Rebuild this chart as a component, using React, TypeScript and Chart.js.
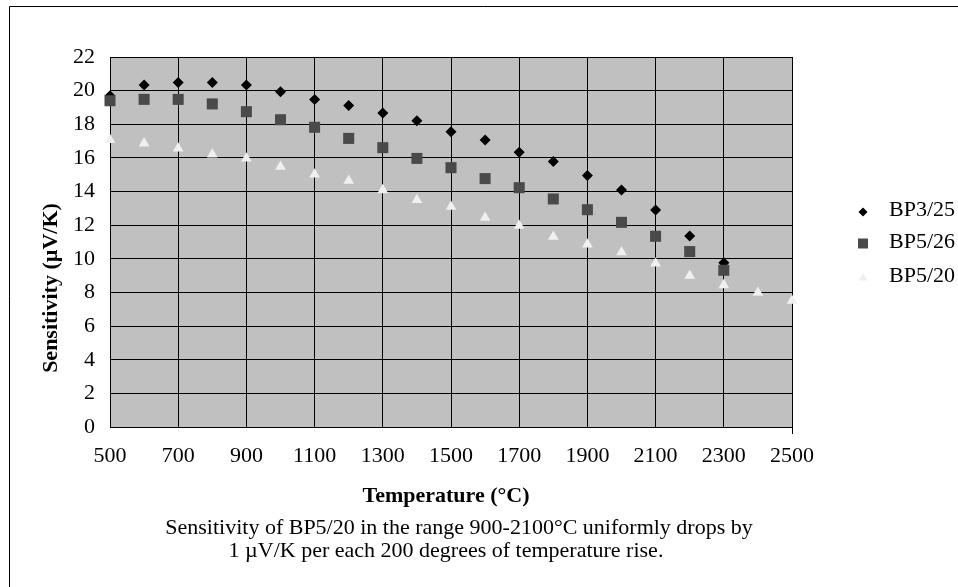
import React, { useEffect, useRef } from 'react';
import { Chart, registerables } from 'chart.js';

Chart.register(...registerables);

const temperatures = [500, 600, 700, 800, 900, 1000, 1100, 1200, 1300, 1400, 1500, 1600, 1700, 1800, 1900, 2000, 2100, 2200, 2300, 2400, 2500];
const seriesLabels = ['BP3/25', 'BP5/26', 'BP5/20'];
const bp325 = [19.7, 20.33, 20.49, 20.49, 20.33, 19.94, 19.48, 19.11, 18.67, 18.21, 17.56, 17.07, 16.33, 15.78, 14.95, 14.09, 12.9, 11.36, 9.77];
const bp526 = [19.4, 19.48, 19.48, 19.21, 18.75, 18.27, 17.82, 17.16, 16.61, 15.97, 15.42, 14.77, 14.23, 13.56, 12.92, 12.17, 11.34, 10.43, 9.32];
const bp520 = [17.07, 16.87, 16.57, 16.21, 15.97, 15.48, 15.02, 14.65, 14.09, 13.5, 13.1, 12.45, 11.97, 11.32, 10.86, 10.39, 9.73, 9.0, 8.44, 7.99, 7.51];
const yTickMin = 0;
const yTickMax = 22;
const yTickStep = 2;
const xTickMin = 500;
const xTickMax = 2500;
const xTickStep = 200;
const xTitle = 'Temperature (°C)';
const yTitle = 'Sensitivity (µV/K)';
const captionLines = [
  'Sensitivity of BP5/20 in the range 900-2100°C uniformly drops by',
  '1 µV/K per each 200 degrees of temperature rise.',
];

const FONT = "'Liberation Serif', 'Times New Roman', serif";
const colors = ['#000000', '#4a4a4a', '#f0f0f0'];

function toPoints(values: number[]) {
  return values.map((v, i) => ({ x: temperatures[i], y: v }));
}

function drawMarker(ctx: CanvasRenderingContext2D, style: string, x: number, y: number, r: number, color: string) {
  ctx.save();
  ctx.fillStyle = color;
  ctx.beginPath();
  if (style === 'rectRot') {
    ctx.moveTo(x - r, y);
    ctx.lineTo(x, y - r);
    ctx.lineTo(x + r, y);
    ctx.lineTo(x, y + r);
    ctx.closePath();
  } else if (style === 'rect') {
    ctx.rect(x - r, y - r, 2 * r, 2 * r);
  } else {
    ctx.moveTo(x, y - r);
    ctx.lineTo(x + r * Math.sqrt(3) / 2, y + r / 2);
    ctx.lineTo(x - r * Math.sqrt(3) / 2, y + r / 2);
    ctx.closePath();
  }
  ctx.fill();
  ctx.restore();
}

const decorPlugin = {
  id: 'decor',
  beforeDraw(chart: any) {
    const { ctx, chartArea: a } = chart;
    ctx.save();
    ctx.fillStyle = '#ffffff';
    ctx.fillRect(0, 0, chart.width, chart.height);
    ctx.fillStyle = '#c0c0c0';
    ctx.fillRect(a.left, a.top, a.right - a.left, a.bottom - a.top);
    ctx.strokeStyle = '#000';
    ctx.lineWidth = 1;
    ctx.beginPath();
    ctx.moveTo(9.5, chart.height);
    ctx.lineTo(9.5, 6.5);
    ctx.lineTo(chart.width, 6.5);
    ctx.stroke();
    ctx.restore();
  },
  afterDraw(chart: any) {
    const { ctx, chartArea: a } = chart;
    ctx.save();
    ctx.strokeStyle = '#000';
    ctx.lineWidth = 1;
    ctx.beginPath();
    ctx.moveTo(Math.round(a.right) + 0.5, a.bottom);
    ctx.lineTo(Math.round(a.right) + 0.5, a.bottom + 7);
    ctx.stroke();

    ctx.fillStyle = '#000';
    ctx.textBaseline = 'alphabetic';
    ctx.font = `bold 22px ${FONT}`;
    ctx.textAlign = 'center';
    ctx.fillText(xTitle, 446, 502);
    ctx.font = `22px ${FONT}`;
    ctx.fillText(captionLines[0], 459, 534);
    ctx.fillText(captionLines[1], 446, 557);

    ctx.save();
    ctx.translate(57, 288);
    ctx.rotate(-Math.PI / 2);
    ctx.font = `bold 22px ${FONT}`;
    ctx.textAlign = 'center';
    ctx.fillText(yTitle, 0, 0);
    ctx.restore();

    const markerSizes = [4.5, 5, 5];
    const rowY = [212, 243.5, 278];
    const textBase = [215.5, 247.5, 282];
    ctx.font = `22px ${FONT}`;
    ctx.textAlign = 'left';
    chart.data.datasets.forEach((ds: any, i: number) => {
      drawMarker(ctx, ds.pointStyle, 863, rowY[i], markerSizes[i], ds.backgroundColor);
      ctx.fillStyle = '#000';
      ctx.fillText(ds.label, 889, textBase[i]);
    });
    ctx.restore();
  },
};

export default function App() {
  const canvasRef = useRef<HTMLCanvasElement | null>(null);

  useEffect(() => {
    document.body.style.margin = '0';
    const canvas = canvasRef.current;
    if (!canvas) return;
    const tickFont = { family: FONT, size: 22 };
    const chart = new Chart(canvas, {
      type: 'scatter',
      data: {
        datasets: [
          {
            label: seriesLabels[0],
            data: toPoints(bp325),
            pointStyle: 'rectRot',
            pointRadius: 5.5,
            backgroundColor: colors[0],
            borderWidth: 0,
            order: 3,
            clip: false,
          },
          {
            label: seriesLabels[1],
            data: toPoints(bp526),
            pointStyle: 'rect',
            pointRadius: 7.8,
            backgroundColor: colors[1],
            borderWidth: 0,
            order: 2,
            clip: false,
          },
          {
            label: seriesLabels[2],
            data: toPoints(bp520),
            pointStyle: 'triangle',
            pointRadius: 6.2,
            backgroundColor: colors[2],
            borderWidth: 0,
            order: 1,
            clip: false,
          },
        ] as any,
      },
      options: {
        animation: false,
        responsive: false,
        events: [],
        layout: { padding: { top: 57, right: 166, left: 0, bottom: 0 } },
        plugins: {
          legend: { display: false },
          tooltip: { enabled: false },
        },
        scales: {
          x: {
            type: 'linear',
            min: xTickMin,
            max: xTickMax,
            ticks: {
              stepSize: xTickStep,
              font: tickFont,
              color: '#000',
              padding: 16,
              maxRotation: 0,
              callback: (v: any) => String(v),
            },
            grid: { color: '#000', drawTicks: false, lineWidth: 1 },
            border: { color: '#000' },
            afterFit: (s: any) => { s.height = 160; },
          },
          y: {
            type: 'linear',
            min: yTickMin,
            max: yTickMax,
            ticks: { stepSize: yTickStep, font: tickFont, color: '#000', padding: 15, callback: (v: any) => String(v) },
            grid: { color: '#000', drawTicks: false, lineWidth: 1 },
            border: { color: '#000' },
            afterFit: (s: any) => { s.width = 110; },
          },
        },
      } as any,
      plugins: [decorPlugin],
    });
    return () => chart.destroy();
  }, []);

  return (
    <div style={{ width: 958, height: 587 }}>
      <canvas ref={canvasRef} width={958} height={587} style={{ display: 'block' }} />
    </div>
  );
}
